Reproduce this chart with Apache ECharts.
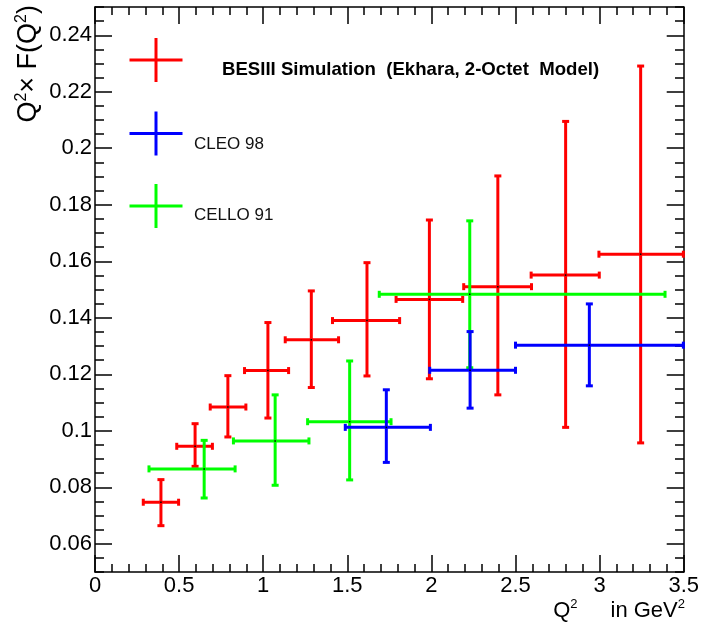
<!DOCTYPE html>
<html>
<head>
<meta charset="utf-8">
<script src="https://cdn.jsdelivr.net/npm/echarts@6/dist/echarts.min.js"></script>
<style>
html,body{margin:0;padding:0;background:#fff;}
#chart{width:702px;height:623px;}
</style>
</head>
<body>
<div id="chart"></div>
<script>
// ---- Data ----
// BESIII Simulation (Ekhara, 2-Octet Model)
const besX   = [0.392, 0.595, 0.790, 1.028, 1.286, 1.617, 1.988, 2.395, 2.798, 3.244];
const besXLo = [0.287, 0.486, 0.685, 0.889, 1.131, 1.412, 1.790, 2.192, 2.593, 2.996];
const besXHi = [0.497, 0.698, 0.897, 1.151, 1.448, 1.811, 2.186, 2.595, 2.998, 3.498];
const besY   = [0.0747, 0.0945, 0.1084, 0.1213, 0.1322, 0.1390, 0.1465, 0.1510, 0.1551, 0.1625];
const besYLo = [0.0664, 0.0874, 0.0978, 0.1045, 0.1153, 0.1194, 0.1184, 0.1127, 0.1012, 0.0957];
const besYHi = [0.0827, 0.1025, 0.1195, 0.1383, 0.1495, 0.1595, 0.1746, 0.1902, 0.2095, 0.2291];
// CLEO 98
const cleoX   = [1.732, 2.230, 2.939];
const cleoXLo = [1.488, 1.990, 2.500];
const cleoXHi = [1.994, 2.500, 3.498];
const cleoY   = [0.1012, 0.1214, 0.1303];
const cleoYLo = [0.0888, 0.1080, 0.1159];
const cleoYHi = [0.1145, 0.1351, 0.1449];
// CELLO 91
const celloX   = [0.649, 1.071, 1.514, 2.228];
const celloXLo = [0.321, 0.823, 1.264, 1.690];
const celloXHi = [0.833, 1.272, 1.760, 3.389];
const celloY   = [0.0865, 0.0964, 0.1032, 0.1483];
const celloYLo = [0.0762, 0.0807, 0.0826, 0.1223];
const celloYHi = [0.0966, 0.1127, 0.1247, 0.1743];

// Axis ticks
const xTicks = [0, 0.5, 1, 1.5, 2, 2.5, 3, 3.5];
const yTicks = [0.06, 0.08, 0.1, 0.12, 0.14, 0.16, 0.18, 0.2, 0.22, 0.24];
const yTickLabels = ['0.06', '0.08', '0.1', '0.12', '0.14', '0.16', '0.18', '0.2', '0.22', '0.24'];

const seriesNames = ['BESIII Simulation  (Ekhara, 2-Octet  Model)', 'CLEO 98', 'CELLO 91'];

function rows(x, xl, xh, y, yl, yh) {
  return x.map((v, i) => [v, xl[i], xh[i], y[i], yl[i], yh[i]]);
}

const FONT = '"Liberation Sans", Arial, Helvetica, sans-serif';

function renderErr(params, api) {
  const x = api.value(0), xl = api.value(1), xh = api.value(2);
  const y = api.value(3), yl = api.value(4), yh = api.value(5);
  const c = api.coord([x, y]);
  const pl = api.coord([xl, y]);
  const ph = api.coord([xh, y]);
  const pb = api.coord([x, yl]);
  const pt = api.coord([x, yh]);
  const color = api.visual('color');
  const st = { stroke: color, lineWidth: 3, fill: null };
  const cap = 3.5;
  return {
    type: 'group',
    children: [
      { type: 'line', shape: { x1: pl[0], y1: c[1], x2: ph[0], y2: c[1] }, style: st },
      { type: 'line', shape: { x1: c[0], y1: pt[1], x2: c[0], y2: pb[1] }, style: st },
      { type: 'line', shape: { x1: pl[0], y1: c[1] - cap, x2: pl[0], y2: c[1] + cap }, style: st },
      { type: 'line', shape: { x1: ph[0], y1: c[1] - cap, x2: ph[0], y2: c[1] + cap }, style: st },
      { type: 'line', shape: { x1: c[0] - cap, y1: pt[1], x2: c[0] + cap, y2: pt[1] }, style: st },
      { type: 'line', shape: { x1: c[0] - cap, y1: pb[1], x2: c[0] + cap, y2: pb[1] }, style: st },
      { type: 'rect', shape: { x: c[0] - 0.75, y: c[1] - 0.75, width: 1.5, height: 1.5 }, style: { fill: '#000' } }
    ]
  };
}

const tickStyle = { color: '#000', width: 1.5 };
const lineStyle = { color: '#000', width: 1.5 };
const GRID = { left: 95, top: 7, width: 589, height: 565, containLabel: false };

function xAxisDef(pos, showLabel, gridIndex) {
  return {
    type: 'value', gridIndex, position: pos, min: 0, max: 3.5, interval: 0.5,
    axisLine: { show: true, onZero: false, lineStyle },
    axisTick: { show: true, inside: true, length: 17, lineStyle: tickStyle },
    minorTick: { show: true, splitNumber: 5, length: 8, lineStyle: tickStyle },
    splitLine: { show: false }, minorSplitLine: { show: false },
    axisLabel: {
      show: showLabel, fontSize: 22, color: '#000', fontFamily: FONT, margin: 3,
      showMinLabel: true, showMaxLabel: true,
      formatter: v => String(+v.toFixed(1))
    }
  };
}
function xHiddenDef(gridIndex) {
  return {
    type: 'value', gridIndex, min: 0, max: 3.5, interval: 0.5, show: false,
    axisLine: { show: false }, axisTick: { show: false }, axisLabel: { show: false }, splitLine: { show: false }
  };
}
function yMajorDef(pos, showLabel, gridIndex) {
  return {
    type: 'value', gridIndex, position: pos, min: 0.05, max: 0.25,
    axisLine: { show: true, onZero: false, lineStyle },
    axisTick: { show: true, inside: true, length: 17, lineStyle: tickStyle, customValues: yTicks },
    splitLine: { show: false },
    axisLabel: {
      show: showLabel, fontSize: 22, color: '#000', fontFamily: FONT, margin: 3,
      customValues: yTicks,
      formatter: v => {
        const i = yTicks.findIndex(t => Math.abs(t - v) < 1e-6);
        return i >= 0 ? yTickLabels[i] : '';
      }
    }
  };
}
function yMinorDef(pos, gridIndex) {
  return {
    type: 'value', gridIndex, position: pos, min: 0.05, max: 0.25, interval: 0.005,
    axisLine: { show: false, onZero: false },
    axisTick: { show: true, inside: true, length: 9, lineStyle: tickStyle },
    splitLine: { show: false },
    axisLabel: { show: false }
  };
}

function legendCross(x, y, color) {
  return [
    { type: 'line', shape: { x1: x - 26.5, y1: y, x2: x + 26.5, y2: y }, style: { stroke: color, lineWidth: 3 } },
    { type: 'line', shape: { x1: x, y1: y - 22, x2: x, y2: y + 22 }, style: { stroke: color, lineWidth: 3 } }
  ];
}

const chart = echarts.init(document.getElementById('chart'), null, { renderer: 'canvas' });
chart.setOption({
  animation: false,
  backgroundColor: '#fff',
  grid: [Object.assign({}, GRID), Object.assign({}, GRID), Object.assign({}, GRID)],
  xAxis: [xAxisDef('bottom', true, 0), xAxisDef('top', false, 0), xHiddenDef(1), xHiddenDef(2)],
  yAxis: [yMajorDef('left', true, 0), yMajorDef('right', false, 0), yMinorDef('left', 1), yMinorDef('right', 2)],
  series: [
    { name: seriesNames[0], type: 'custom', renderItem: renderErr, clip: false, color: '#ff0000',
      xAxisIndex: 0, yAxisIndex: 0,
      encode: { x: [0, 1, 2], y: [3, 4, 5] }, data: rows(besX, besXLo, besXHi, besY, besYLo, besYHi), z: 2 },
    { name: seriesNames[2], type: 'custom', renderItem: renderErr, clip: false, color: '#00ff00',
      xAxisIndex: 0, yAxisIndex: 0,
      encode: { x: [0, 1, 2], y: [3, 4, 5] }, data: rows(celloX, celloXLo, celloXHi, celloY, celloYLo, celloYHi), z: 3 },
    { name: seriesNames[1], type: 'custom', renderItem: renderErr, clip: false, color: '#0000ff',
      xAxisIndex: 0, yAxisIndex: 0,
      encode: { x: [0, 1, 2], y: [3, 4, 5] }, data: rows(cleoX, cleoXLo, cleoXHi, cleoY, cleoYLo, cleoYHi), z: 4 }
  ],
  graphic: [
    ...legendCross(156, 60, '#ff0000'),
    ...legendCross(156, 133.5, '#0000ff'),
    ...legendCross(156, 206, '#00ff00'),
    { type: 'text', x: 222, y: 69.5,
      style: { text: seriesNames[0], font: 'bold 18.6px ' + FONT, fill: '#000', align: 'left', verticalAlign: 'middle' } },
    { type: 'text', x: 194, y: 144,
      style: { text: seriesNames[1], font: '17px ' + FONT, fill: '#111', align: 'left', verticalAlign: 'middle' } },
    { type: 'text', x: 194, y: 215.5,
      style: { text: seriesNames[2], font: '17px ' + FONT, fill: '#111', align: 'left', verticalAlign: 'middle' } },
    { type: 'text', x: 685, y: 610,
      style: {
        text: '{a|Q}{s|2}{b|in GeV}{s|2}', align: 'right', verticalAlign: 'middle', fill: '#000',
        rich: {
          a: { fontSize: 22, fontFamily: FONT, fill: '#000', lineHeight: 24, verticalAlign: 'bottom' },
          b: { fontSize: 22, fontFamily: FONT, fill: '#000', lineHeight: 24, verticalAlign: 'bottom', padding: [0, 0, 0, 33] },
          s: { fontSize: 13, fontFamily: FONT, fill: '#000', lineHeight: 24, verticalAlign: 'top', padding: [0, 0, 8, 0] }
        }
      } },
    { type: 'text', x: 28, y: 5, rotation: Math.PI / 2,
      style: {
        text: '{a|Q}{s|2}{a|× F(Q}{s|2}{a|)}', align: 'right', verticalAlign: 'middle', fill: '#000',
        rich: {
          a: { fontSize: 27, fontFamily: FONT, fill: '#000', lineHeight: 28, verticalAlign: 'bottom' },
          s: { fontSize: 16, fontFamily: FONT, fill: '#000', lineHeight: 28, verticalAlign: 'top', padding: [0, 0, 9, 0] }
        }
      } }
  ]
});
</script>
</body>
</html>
